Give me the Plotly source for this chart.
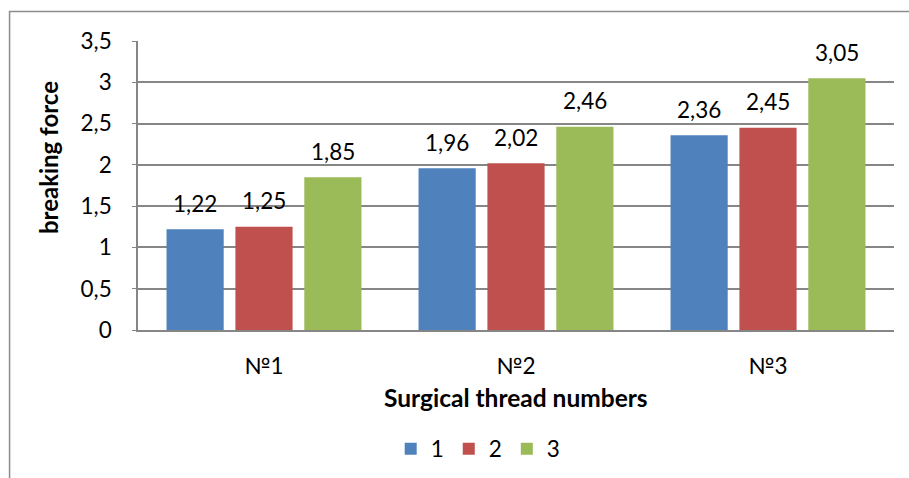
import plotly.graph_objects as go

categories = ["№1", "№2", "№3"]
series_names = ["1", "2", "3"]
series1 = [1.22, 1.96, 2.36]
series2 = [1.25, 2.02, 2.45]
series3 = [1.85, 2.46, 3.05]
colors = ["#4F81BD", "#C0504D", "#9BBB59"]
y_ticks = [0, 0.5, 1, 1.5, 2, 2.5, 3, 3.5]
y_ticklabels = ["0", "0,5", "1", "1,5", "2", "2,5", "3", "3,5"]

W, H = 909, 478
ML, MR, MT, MB = 138, 15, 41, 148
BARGAP, BARGROUPGAP = 0.18, 0.17
FONT = "Lato"
GRAY = "#868686"
FS = 22.5

all_series = [series1, series2, series3]

fig = go.Figure()
for name, vals, col in zip(series_names, all_series, colors):
    fig.add_trace(go.Bar(x=categories, y=vals, name=name, marker=dict(color=col, line=dict(width=0))))

# data labels
plot_w = W - ML - MR
cat_w = plot_w / len(categories)
slot = cat_w * (1 - BARGAP) / len(all_series)
for i, vals in enumerate(all_series):
    for c, v in zip(categories, vals):
        fig.add_annotation(x=c, y=v, text=f"{v:.2f}".replace(".", ","), showarrow=False,
                           xshift=(i - 1) * slot, yshift=26, yanchor="middle",
                           font=dict(family=FONT, size=FS, color="#000000"))

# axis titles
fig.add_annotation(xref="paper", yref="paper", x=0.5, y=-0.235, text="<b>Surgical thread numbers</b>",
                   showarrow=False, xanchor="center", yanchor="middle",
                   font=dict(family=FONT, size=24.5, color="#000000"))
fig.add_annotation(xref="paper", yref="paper", x=-0.119, y=0.595, text="<b>breaking force</b>",
                   showarrow=False, textangle=-90, xanchor="center", yanchor="middle",
                   font=dict(family=FONT, size=24, color="#000000"))

# outer chart border
fig.add_shape(type="rect", xref="paper", yref="paper", x0=-0.1699, y0=-1.0, x1=1.2, y1=1.1021,
              line=dict(color="#8C8C8C", width=1.5), layer="below")

fig.update_layout(
    width=W, height=H,
    margin=dict(l=ML, r=MR, t=MT, b=MB, autoexpand=False),
    paper_bgcolor="white", plot_bgcolor="white",
    barmode="group", bargap=BARGAP, bargroupgap=BARGROUPGAP,
    font=dict(family=FONT, size=FS, color="#000000"),
    showlegend=True,
    legend=dict(orientation="h", x=0.45, y=-0.412, xanchor="center", yanchor="middle",
                font=dict(family=FONT, size=FS), traceorder="normal"),
    xaxis=dict(showline=True, linecolor=GRAY, linewidth=1.5, ticks="", showgrid=False,
               ticklabelstandoff=15, tickfont=dict(family=FONT, size=FS), automargin=False),
    yaxis=dict(range=[0, 3.5], tickvals=y_ticks, ticktext=y_ticklabels, showgrid=True,
               gridcolor=GRAY, gridwidth=1.5, showline=True, linecolor=GRAY, linewidth=1.5,
               ticks="outside", ticklen=4, tickcolor=GRAY, zeroline=False, automargin=False,
               ticklabelstandoff=16, tickfont=dict(family=FONT, size=FS)),
)

fig.write_html("out.html", config={"displayModeBar": False},
               post_script="document.body.style.margin='0';")
